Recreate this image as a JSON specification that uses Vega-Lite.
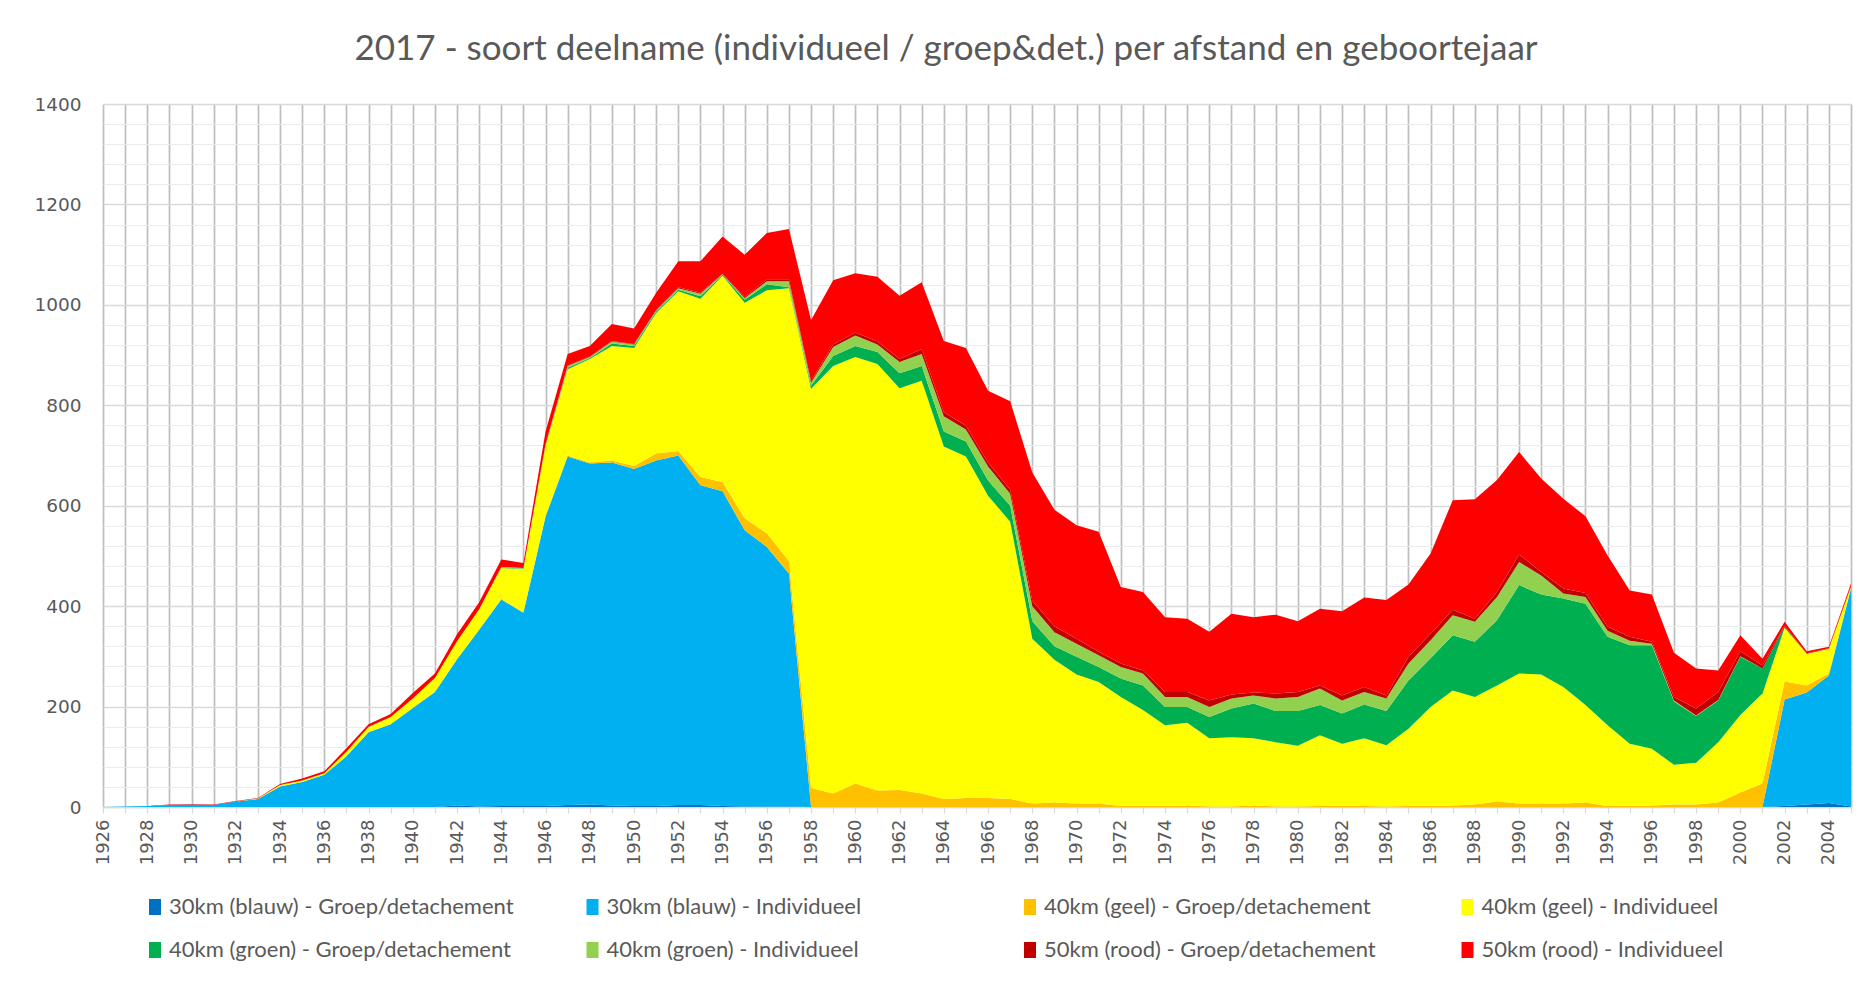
{
  "$schema": "https://vega.github.io/schema/vega-lite/v6.json",
  "width": 1748,
  "height": 703,
  "autosize": {"type": "none"},
  "padding": {"left": 103, "top": 104, "right": 21, "bottom": 175},
  "background": "white",
  "title": {
    "text": "2017 - soort deelname (individueel / groep&det.) per afstand en geboortejaar",
    "anchor": "middle",
    "dx": -31,
    "offset": 28,
    "font": "Lato",
    "fontSize": 35,
    "fontWeight": "normal",
    "color": "#595959"
  },
  "config": {"view": {"stroke": null}},
  "datasets": {
    "reeksen": [
      {"key": "b30g", "serie": "30km (blauw) - Groep/detachement"},
      {"key": "b30i", "serie": "30km (blauw) - Individueel"},
      {"key": "g40g", "serie": "40km (geel) - Groep/detachement"},
      {"key": "g40i", "serie": "40km (geel) - Individueel"},
      {"key": "gr40g", "serie": "40km (groen) - Groep/detachement"},
      {"key": "gr40i", "serie": "40km (groen) - Individueel"},
      {"key": "r50g", "serie": "50km (rood) - Groep/detachement"},
      {"key": "r50i", "serie": "50km (rood) - Individueel"}
    ]
  },
  "data": {
    "values": [
      {"jaar": 1926, "b30g": 0, "b30i": 0, "g40g": 0, "g40i": 0, "gr40g": 0, "gr40i": 0, "r50g": 0, "r50i": 0},
      {"jaar": 1927, "b30g": 0, "b30i": 1, "g40g": 0, "g40i": 0, "gr40g": 0, "gr40i": 0, "r50g": 0, "r50i": 0},
      {"jaar": 1928, "b30g": 0, "b30i": 2, "g40g": 0, "g40i": 0, "gr40g": 0, "gr40i": 0, "r50g": 0, "r50i": 0},
      {"jaar": 1929, "b30g": 0, "b30i": 4, "g40g": 0, "g40i": 0, "gr40g": 0, "gr40i": 0, "r50g": 0, "r50i": 1},
      {"jaar": 1930, "b30g": 0, "b30i": 5, "g40g": 0, "g40i": 0, "gr40g": 0, "gr40i": 0, "r50g": 0, "r50i": 1},
      {"jaar": 1931, "b30g": 0, "b30i": 4, "g40g": 0, "g40i": 0, "gr40g": 0, "gr40i": 0, "r50g": 0, "r50i": 1},
      {"jaar": 1932, "b30g": 0, "b30i": 11, "g40g": 0, "g40i": 0, "gr40g": 0, "gr40i": 0, "r50g": 0, "r50i": 1},
      {"jaar": 1933, "b30g": 0, "b30i": 16, "g40g": 0, "g40i": 1, "gr40g": 0, "gr40i": 0, "r50g": 0, "r50i": 1},
      {"jaar": 1934, "b30g": 0, "b30i": 41, "g40g": 0, "g40i": 3, "gr40g": 0, "gr40i": 0, "r50g": 0, "r50i": 2},
      {"jaar": 1935, "b30g": 0, "b30i": 50, "g40g": 0, "g40i": 3, "gr40g": 0, "gr40i": 0, "r50g": 0, "r50i": 4},
      {"jaar": 1936, "b30g": 0, "b30i": 64, "g40g": 0, "g40i": 3, "gr40g": 0, "gr40i": 0, "r50g": 0, "r50i": 4},
      {"jaar": 1937, "b30g": 0, "b30i": 101, "g40g": 0, "g40i": 9, "gr40g": 0, "gr40i": 0, "r50g": 0, "r50i": 7},
      {"jaar": 1938, "b30g": 0, "b30i": 149, "g40g": 0, "g40i": 10, "gr40g": 1, "gr40i": 0, "r50g": 0, "r50i": 5},
      {"jaar": 1939, "b30g": 0, "b30i": 165, "g40g": 0, "g40i": 14, "gr40g": 0, "gr40i": 0, "r50g": 0, "r50i": 6},
      {"jaar": 1940, "b30g": 0, "b30i": 197, "g40g": 0, "g40i": 19, "gr40g": 0, "gr40i": 0, "r50g": 0, "r50i": 11},
      {"jaar": 1941, "b30g": 0, "b30i": 229, "g40g": 0, "g40i": 28, "gr40g": 0, "gr40i": 0, "r50g": 0, "r50i": 9},
      {"jaar": 1942, "b30g": 3, "b30i": 291, "g40g": 0, "g40i": 36, "gr40g": 0, "gr40i": 0, "r50g": 0, "r50i": 14},
      {"jaar": 1943, "b30g": 1, "b30i": 352, "g40g": 0, "g40i": 41, "gr40g": 0, "gr40i": 0, "r50g": 0, "r50i": 14},
      {"jaar": 1944, "b30g": 2, "b30i": 411, "g40g": 1, "g40i": 62, "gr40g": 1, "gr40i": 1, "r50g": 0, "r50i": 15},
      {"jaar": 1945, "b30g": 2, "b30i": 385, "g40g": 1, "g40i": 86, "gr40g": 1, "gr40i": 1, "r50g": 0, "r50i": 10},
      {"jaar": 1946, "b30g": 2, "b30i": 576, "g40g": 2, "g40i": 140, "gr40g": 1, "gr40i": 1, "r50g": 1, "r50i": 25},
      {"jaar": 1947, "b30g": 4, "b30i": 694, "g40g": 2, "g40i": 172, "gr40g": 3, "gr40i": 3, "r50g": 1, "r50i": 23},
      {"jaar": 1948, "b30g": 5, "b30i": 679, "g40g": 2, "g40i": 206, "gr40g": 2, "gr40i": 2, "r50g": 1, "r50i": 21},
      {"jaar": 1949, "b30g": 3, "b30i": 683, "g40g": 4, "g40i": 228, "gr40g": 5, "gr40i": 4, "r50g": 1, "r50i": 34},
      {"jaar": 1950, "b30g": 2, "b30i": 671, "g40g": 6, "g40i": 235, "gr40g": 4, "gr40i": 3, "r50g": 1, "r50i": 31},
      {"jaar": 1951, "b30g": 2, "b30i": 688, "g40g": 14, "g40i": 280, "gr40g": 3, "gr40i": 2, "r50g": 1, "r50i": 34},
      {"jaar": 1952, "b30g": 4, "b30i": 696, "g40g": 9, "g40i": 318, "gr40g": 3, "gr40i": 3, "r50g": 2, "r50i": 52},
      {"jaar": 1953, "b30g": 4, "b30i": 637, "g40g": 16, "g40i": 355, "gr40g": 5, "gr40i": 5, "r50g": 2, "r50i": 63},
      {"jaar": 1954, "b30g": 2, "b30i": 627, "g40g": 18, "g40i": 411, "gr40g": 2, "gr40i": 1, "r50g": 1, "r50i": 74},
      {"jaar": 1955, "b30g": 1, "b30i": 550, "g40g": 24, "g40i": 429, "gr40g": 6, "gr40i": 3, "r50g": 2, "r50i": 85},
      {"jaar": 1956, "b30g": 1, "b30i": 517, "g40g": 27, "g40i": 484, "gr40g": 12, "gr40i": 6, "r50g": 4, "r50i": 92},
      {"jaar": 1957, "b30g": 1, "b30i": 464, "g40g": 25, "g40i": 543, "gr40g": 2, "gr40i": 12, "r50g": 4, "r50i": 100},
      {"jaar": 1958, "b30g": 0, "b30i": 0, "g40g": 38, "g40i": 795, "gr40g": 6, "gr40i": 6, "r50g": 3, "r50i": 122},
      {"jaar": 1959, "b30g": 0, "b30i": 0, "g40g": 27, "g40i": 851, "gr40g": 20, "gr40i": 18, "r50g": 5, "r50i": 128},
      {"jaar": 1960, "b30g": 0, "b30i": 0, "g40g": 47, "g40i": 849, "gr40g": 22, "gr40i": 21, "r50g": 6, "r50i": 118},
      {"jaar": 1961, "b30g": 0, "b30i": 0, "g40g": 33, "g40i": 849, "gr40g": 24, "gr40i": 15, "r50g": 6, "r50i": 129},
      {"jaar": 1962, "b30g": 0, "b30i": 0, "g40g": 34, "g40i": 800, "gr40g": 30, "gr40i": 22, "r50g": 6, "r50i": 126},
      {"jaar": 1963, "b30g": 0, "b30i": 0, "g40g": 27, "g40i": 822, "gr40g": 29, "gr40i": 24, "r50g": 10, "r50i": 133},
      {"jaar": 1964, "b30g": 0, "b30i": 0, "g40g": 16, "g40i": 702, "gr40g": 30, "gr40i": 30, "r50g": 8, "r50i": 142},
      {"jaar": 1965, "b30g": 0, "b30i": 0, "g40g": 18, "g40i": 680, "gr40g": 30, "gr40i": 24, "r50g": 7, "r50i": 155},
      {"jaar": 1966, "b30g": 0, "b30i": 0, "g40g": 18, "g40i": 602, "gr40g": 30, "gr40i": 28, "r50g": 8, "r50i": 143},
      {"jaar": 1967, "b30g": 0, "b30i": 0, "g40g": 16, "g40i": 552, "gr40g": 32, "gr40i": 24, "r50g": 8, "r50i": 176},
      {"jaar": 1968, "b30g": 0, "b30i": 0, "g40g": 7, "g40i": 328, "gr40g": 35, "gr40i": 30, "r50g": 10, "r50i": 256},
      {"jaar": 1969, "b30g": 0, "b30i": 0, "g40g": 9, "g40i": 284, "gr40g": 27, "gr40i": 28, "r50g": 12, "r50i": 232},
      {"jaar": 1970, "b30g": 0, "b30i": 0, "g40g": 7, "g40i": 257, "gr40g": 35, "gr40i": 26, "r50g": 10, "r50i": 226},
      {"jaar": 1971, "b30g": 0, "b30i": 0, "g40g": 7, "g40i": 242, "gr40g": 30, "gr40i": 23, "r50g": 7, "r50i": 239},
      {"jaar": 1972, "b30g": 0, "b30i": 0, "g40g": 2, "g40i": 217, "gr40g": 37, "gr40i": 23, "r50g": 7, "r50i": 152},
      {"jaar": 1973, "b30g": 0, "b30i": 0, "g40g": 2, "g40i": 191, "gr40g": 49, "gr40i": 24, "r50g": 6, "r50i": 156},
      {"jaar": 1974, "b30g": 0, "b30i": 0, "g40g": 2, "g40i": 161, "gr40g": 36, "gr40i": 20, "r50g": 10, "r50i": 149},
      {"jaar": 1975, "b30g": 0, "b30i": 0, "g40g": 3, "g40i": 165, "gr40g": 31, "gr40i": 20, "r50g": 10, "r50i": 146},
      {"jaar": 1976, "b30g": 0, "b30i": 0, "g40g": 1, "g40i": 136, "gr40g": 42, "gr40i": 20, "r50g": 13, "r50i": 137},
      {"jaar": 1977, "b30g": 0, "b30i": 0, "g40g": 1, "g40i": 138, "gr40g": 57, "gr40i": 20, "r50g": 8, "r50i": 161},
      {"jaar": 1978, "b30g": 0, "b30i": 0, "g40g": 3, "g40i": 134, "gr40g": 69, "gr40i": 16, "r50g": 6, "r50i": 150},
      {"jaar": 1979, "b30g": 0, "b30i": 0, "g40g": 1, "g40i": 128, "gr40g": 62, "gr40i": 25, "r50g": 10, "r50i": 157},
      {"jaar": 1980, "b30g": 0, "b30i": 0, "g40g": 1, "g40i": 121, "gr40g": 69, "gr40i": 28, "r50g": 10, "r50i": 141},
      {"jaar": 1981, "b30g": 0, "b30i": 0, "g40g": 2, "g40i": 141, "gr40g": 60, "gr40i": 33, "r50g": 6, "r50i": 153},
      {"jaar": 1982, "b30g": 0, "b30i": 0, "g40g": 2, "g40i": 124, "gr40g": 60, "gr40i": 26, "r50g": 10, "r50i": 168},
      {"jaar": 1983, "b30g": 0, "b30i": 0, "g40g": 2, "g40i": 135, "gr40g": 67, "gr40i": 25, "r50g": 10, "r50i": 178},
      {"jaar": 1984, "b30g": 0, "b30i": 0, "g40g": 1, "g40i": 122, "gr40g": 68, "gr40i": 25, "r50g": 6, "r50i": 190},
      {"jaar": 1985, "b30g": 0, "b30i": 0, "g40g": 2, "g40i": 154, "gr40g": 96, "gr40i": 34, "r50g": 13, "r50i": 144},
      {"jaar": 1986, "b30g": 0, "b30i": 0, "g40g": 2, "g40i": 197, "gr40g": 97, "gr40i": 36, "r50g": 13, "r50i": 160},
      {"jaar": 1987, "b30g": 0, "b30i": 0, "g40g": 3, "g40i": 229, "gr40g": 110, "gr40i": 40, "r50g": 11, "r50i": 218},
      {"jaar": 1988, "b30g": 0, "b30i": 0, "g40g": 5, "g40i": 214, "gr40g": 110, "gr40i": 40, "r50g": 6, "r50i": 238},
      {"jaar": 1989, "b30g": 0, "b30i": 0, "g40g": 11, "g40i": 231, "gr40g": 130, "gr40i": 46, "r50g": 10, "r50i": 223},
      {"jaar": 1990, "b30g": 0, "b30i": 0, "g40g": 7, "g40i": 259, "gr40g": 176, "gr40i": 46, "r50g": 15, "r50i": 204},
      {"jaar": 1991, "b30g": 0, "b30i": 0, "g40g": 7, "g40i": 257, "gr40g": 159, "gr40i": 38, "r50g": 7, "r50i": 186},
      {"jaar": 1992, "b30g": 0, "b30i": 0, "g40g": 7, "g40i": 232, "gr40g": 176, "gr40i": 10, "r50g": 10, "r50i": 179},
      {"jaar": 1993, "b30g": 0, "b30i": 0, "g40g": 9, "g40i": 194, "gr40g": 202, "gr40i": 13, "r50g": 8, "r50i": 153},
      {"jaar": 1994, "b30g": 0, "b30i": 0, "g40g": 2, "g40i": 161, "gr40g": 176, "gr40i": 12, "r50g": 8, "r50i": 142},
      {"jaar": 1995, "b30g": 0, "b30i": 0, "g40g": 2, "g40i": 124, "gr40g": 196, "gr40i": 9, "r50g": 8, "r50i": 92},
      {"jaar": 1996, "b30g": 0, "b30i": 0, "g40g": 3, "g40i": 113, "gr40g": 206, "gr40i": 3, "r50g": 4, "r50i": 94},
      {"jaar": 1997, "b30g": 0, "b30i": 0, "g40g": 5, "g40i": 79, "gr40g": 126, "gr40i": 2, "r50g": 7, "r50i": 88},
      {"jaar": 1998, "b30g": 0, "b30i": 0, "g40g": 5, "g40i": 83, "gr40g": 93, "gr40i": 1, "r50g": 14, "r50i": 80},
      {"jaar": 1999, "b30g": 0, "b30i": 0, "g40g": 9, "g40i": 120, "gr40g": 83, "gr40i": 1, "r50g": 16, "r50i": 43},
      {"jaar": 2000, "b30g": 0, "b30i": 0, "g40g": 29, "g40i": 154, "gr40g": 116, "gr40i": 1, "r50g": 10, "r50i": 32},
      {"jaar": 2001, "b30g": 0, "b30i": 0, "g40g": 47, "g40i": 179, "gr40g": 50, "gr40i": 0, "r50g": 6, "r50i": 13},
      {"jaar": 2002, "b30g": 2, "b30i": 212, "g40g": 36, "g40i": 107, "gr40g": 2, "gr40i": 0, "r50g": 2, "r50i": 8},
      {"jaar": 2003, "b30g": 5, "b30i": 223, "g40g": 14, "g40i": 63, "gr40g": 0, "gr40i": 0, "r50g": 1, "r50i": 4},
      {"jaar": 2004, "b30g": 8, "b30i": 254, "g40g": 4, "g40i": 49, "gr40g": 0, "gr40i": 0, "r50g": 1, "r50i": 3},
      {"jaar": 2005, "b30g": 1, "b30i": 434, "g40g": 1, "g40i": 3, "gr40g": 0, "gr40i": 0, "r50g": 0, "r50i": 6}
    ]
  },
  "transform": [
    {"fold": ["b30g", "b30i", "g40g", "g40i", "gr40g", "gr40i", "r50g", "r50i"], "as": ["key", "aantal"]},
    {"lookup": "key", "from": {"data": {"name": "reeksen"}, "key": "key", "fields": ["serie"]}}
  ],
  "layer": [
    {
      "mark": {"type": "rule", "opacity": 0},
      "encoding": {
        "y": {
          "datum": 0,
          "type": "quantitative",
          "scale": {"domain": [0, 1400], "nice": false},
          "axis": {
            "orient": "left",
            "title": null,
            "values": [40, 80, 120, 160, 240, 280, 320, 360, 440, 480, 520, 560, 640, 680, 720, 760, 840, 880, 920, 960, 1040, 1080, 1120, 1160, 1240, 1280, 1320, 1360],
            "labels": false,
            "ticks": false,
            "domain": false,
            "grid": true,
            "gridColor": "#EBEBEB",
            "gridWidth": 1.2
          }
        }
      }
    },
    {
      "mark": {"type": "area", "interpolate": "linear"},
      "encoding": {
        "x": {
          "field": "jaar",
          "type": "quantitative",
          "scale": {"domain": [1926, 2005], "nice": false, "zero": false},
          "axis": {
            "title": null,
            "format": "d",
            "tickCount": 80,
            "labelExpr": "datum.value % 2 == 0 ? datum.label : ''",
            "labelAngle": -90,
            "labelFont": "DejaVu Sans",
            "labelFontSize": 18,
            "labelColor": "#595959",
            "labelPadding": 6,
            "labelOverlap": false,
            "labelFlush": false,
            "labelBound": false,
            "grid": true,
            "gridColor": "#BFBFBF",
            "gridWidth": 1.75,
            "domainColor": "#D9D9D9",
            "domainWidth": 1.5,
            "tickColor": "#D9D9D9",
            "tickSize": 6,
            "tickWidth": 1.2
          }
        },
        "y": {
          "field": "aantal",
          "type": "quantitative",
          "stack": "zero",
          "scale": {"domain": [0, 1400], "nice": false},
          "axis": {
            "orient": "left",
            "title": null,
            "format": "d",
            "values": [0, 200, 400, 600, 800, 1000, 1200, 1400],
            "labelFont": "DejaVu Sans",
            "labelFontSize": 18.5,
            "labelColor": "#595959",
            "labelPadding": 22,
            "ticks": false,
            "domain": false,
            "grid": true,
            "gridColor": "#D9D9D9",
            "gridWidth": 1.4
          }
        },
        "order": {"field": "serie", "sort": "ascending"},
        "color": {
          "field": "serie",
          "type": "nominal",
          "scale": {
            "domain": [
              "30km (blauw) - Groep/detachement",
              "30km (blauw) - Individueel",
              "40km (geel) - Groep/detachement",
              "40km (geel) - Individueel",
              "40km (groen) - Groep/detachement",
              "40km (groen) - Individueel",
              "50km (rood) - Groep/detachement",
              "50km (rood) - Individueel"
            ],
            "range": ["#0070C0", "#00B0F0", "#FFC000", "#FFFF00", "#00B050", "#92D050", "#C00000", "#FF0000"]
          },
          "legend": {
            "orient": "none",
            "legendX": 41,
            "legendY": 792,
            "direction": "horizontal",
            "columns": 4,
            "title": null,
            "labelFont": "Lato",
            "labelFontSize": 22,
            "labelColor": "#595959",
            "labelLimit": 600,
            "labelOffset": 3,
            "symbolType": "M-0.75,-1H0.75V1H-0.75Z",
            "symbolSize": 256,
            "symbolStrokeWidth": 0,
            "symbolOpacity": 1,
            "columnPadding": 67.5,
            "rowPadding": 21,
            "gridAlign": "all",
            "padding": 0
          }
        }
      }
    }
  ],
  "resolve": {"axis": {"y": "independent"}}
}
